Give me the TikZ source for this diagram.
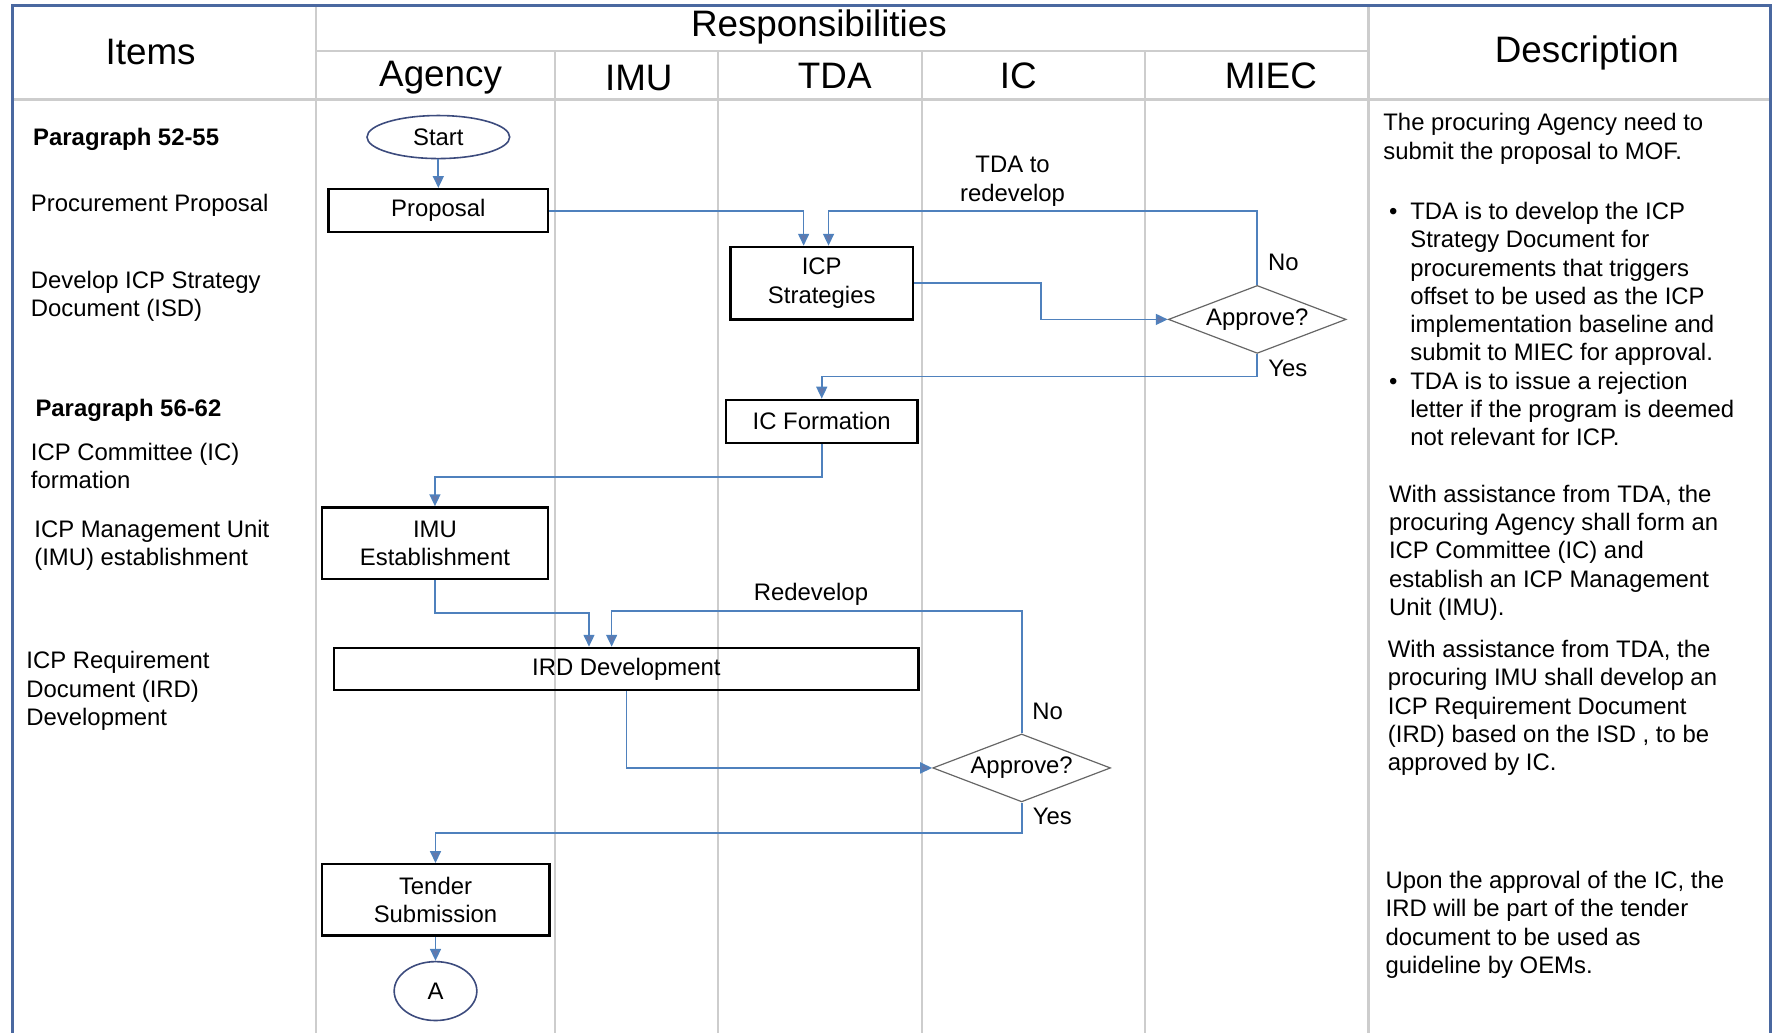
\documentclass[tikz,border=0pt]{standalone}
\usepackage{fontspec}
\setmainfont{Liberation Sans}
\usetikzlibrary{shapes.geometric,arrows.meta,calc}

\definecolor{flowblue}{RGB}{79,129,189}
\definecolor{tipblue}{RGB}{100,120,170}
\definecolor{framecol}{RGB}{74,104,160}
\definecolor{lanegray}{RGB}{205,205,205}
\definecolor{termcol}{RGB}{60,75,125}

\tikzset{
  procbox/.style={draw=black,line width=1.2pt,rectangle,inner sep=0pt,align=center},
  decision/.style={draw=black!60,line width=0.6pt,diamond,aspect=2.6,inner sep=0pt,
    minimum width=3.14cm,minimum height=1.2cm},
  startstop/.style={draw=termcol,line width=0.8pt,ellipse,inner sep=0pt},
  flow/.style={draw=flowblue,line width=0.85pt,-{Triangle[length=6pt,width=5.5pt,fill=tipblue]}},
  laneline/.style={draw=lanegray,line width=0.7pt},
  headline/.style={draw=lanegray,line width=1.4pt},
  frameline/.style={draw=framecol,line width=1.6pt},
  hdr/.style={font=\fontsize{18.5}{22}\selectfont},
  itemtext/.style={anchor=north west,inner sep=0pt,align=left,font=\fontsize{12}{14.2}\selectfont},
  lbl/.style={inner sep=0pt,align=center,font=\fontsize{12}{14.2}\selectfont}
}

\begin{document}
\begin{tikzpicture}[x=0.02cm,y=-0.02cm,font=\fontsize{12}{14.2}\selectfont]

\useasboundingbox (0,0) rectangle (1568,912);

\draw[laneline] (490,45) -- (490,912);
\draw[laneline] (634,45) -- (634,912);
\draw[laneline] (814,45) -- (814,912);
\draw[laneline] (1011,45) -- (1011,912);
\draw[headline] (279,5) -- (279,912);
\draw[headline] (1208,5) -- (1208,912);
\draw[headline] (279,45) -- (1208,45);
\draw[headline] (11,88) -- (1563,88);
\draw[frameline] (11,912) -- (11,5) -- (1563,5) -- (1563,912);

\node[hdr] (hitems) at (133,46) {Items};
\node[hdr] (hresp) at (723,24) {Responsibilities};
\node[hdr] (hagency) at (389,69) {Agency};
\node[hdr] (himu) at (564,69) {IMU};
\node[hdr] (htda) at (737,67) {TDA};
\node[hdr] (hic) at (899,67) {IC};
\node[hdr] (hmiec) at (1122,67) {MIEC};
\node[hdr] (hdesc) at (1401,47) {Description};

\node[itemtext] (par1) at (29,113) {\bfseries Paragraph 52-55};
\node[itemtext] (item1) at (27,171) {Procurement Proposal};
\node[itemtext] (item2) at (27,239) {Develop ICP Strategy\\Document (ISD)};
\node[itemtext] (par2) at (31,352) {\bfseries Paragraph 56-62};
\node[itemtext] (item3) at (27,391) {ICP Committee (IC)\\formation};
\node[itemtext] (item4) at (30,459) {ICP Management Unit\\(IMU) establishment};
\node[itemtext] (item5) at (23,575) {ICP Requirement\\Document (IRD)\\Development};

\node[itemtext] (desc1) at (1221,100) {The procuring Agency need to\\submit the proposal to MOF.};
\node[itemtext] (desc2) at (1226,176) {\begin{tabular}{@{}l@{\hspace{6.5pt}}l@{}}
\textbullet & TDA is to develop the ICP\\
 & Strategy Document for\\
 & procurements that triggers\\
 & offset to be used as the ICP\\
 & implementation baseline and\\
 & submit to MIEC for approval.\\
\textbullet & TDA is to issue a rejection\\
 & letter if the program is deemed\\
 & not relevant for ICP.
\end{tabular}};
\node[itemtext] (desc3) at (1226,428) {With assistance from TDA, the\\procuring Agency shall form an\\ICP Committee (IC) and\\establish an ICP Management\\Unit (IMU).};
\node[itemtext] (desc4) at (1225,565) {With assistance from TDA, the\\procuring IMU shall develop an\\ICP Requirement Document\\(IRD) based on the ISD , to be\\approved by IC.};
\node[itemtext] (desc5) at (1223,769) {Upon the approval of the IC, the\\IRD will be part of the tender\\document to be used as\\guideline by OEMs.};

\node[startstop,minimum width=2.52cm,minimum height=0.76cm] (start) at (387,121) {Start};
\node[procbox,minimum width=3.88cm,minimum height=0.76cm] (proposal) at (387,186) {Proposal};
\node[procbox,minimum width=3.22cm,minimum height=1.28cm] (icp) at (725.5,250) {ICP\\Strategies};
\node[decision] (appr1) at (1110,282) {Approve?};
\node[procbox,minimum width=3.38cm,minimum height=0.76cm] (icform) at (725.5,372) {IC Formation};
\node[procbox,minimum width=4.0cm,minimum height=1.26cm] (imu) at (384,479.5) {IMU\\Establishment};
\node[procbox,minimum width=10.32cm,minimum height=0.74cm] (ird) at (553,590.5) {IRD Development};
\node[decision] (appr2) at (902,678) {Approve?};
\node[procbox,minimum width=4.02cm,minimum height=1.26cm] (tender) at (384.5,794.5) {Tender\\Submission};
\node[startstop,minimum width=1.46cm,minimum height=1.04cm] (conA) at (384.5,875) {A};

\draw[flow] (start) -- (proposal);
\draw[flow] (proposal.east) -| ($(icp.north)+(-16,0)$);
\draw[flow] (appr1.north) -- (appr1.north |- proposal.east) -| ($(icp.north)+(6,0)$);
\draw[flow] (icp.east) -- ++(112,0) |- (appr1.west);
\draw[flow] (appr1.south) -- ++(0,20) -| (icform.north);
\draw[flow] (icform.south) -- ++(0,29) -| (imu.north);
\draw[flow] (imu.south) -- ++(0,29) -| ($(ird.north)+(-33,0)$);
\draw[flow] (appr2.north) -- ++(0,-108) -| ($(ird.north)+(-13,0)$);
\draw[flow] (ird.south) |- (appr2.west);
\draw[flow] (appr2.south) -- ++(0,27) -| (tender.north);
\draw[flow] (tender) -- (conA);

\node[lbl] (redo1) at (894,160) {TDA to\\redevelop};
\node[lbl] (no1) at (1133,232) {No};
\node[lbl] (yes1) at (1137,325) {Yes};
\node[lbl] (redo2) at (716,525) {Redevelop};
\node[lbl] (no2) at (925,628) {No};
\node[lbl] (yes2) at (929,721) {Yes};

\end{tikzpicture}
\end{document}
